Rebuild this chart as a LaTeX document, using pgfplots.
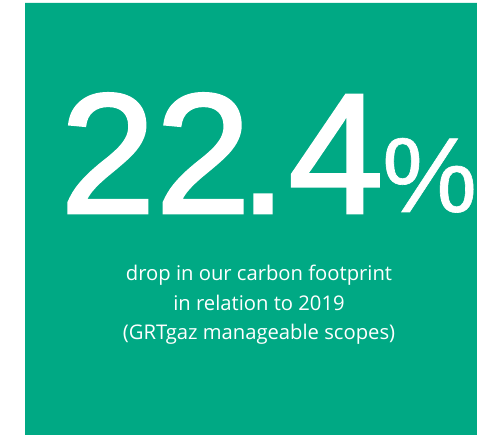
\documentclass[border=0pt]{standalone}
\usepackage{pgfplots}
\pgfplotsset{compat=1.18}
\usepackage{fontspec}
\setmainfont{Open Sans}
\newfontfamily\numfont[FakeBold=1.6]{Liberation Sans}
\newfontfamily\pctfont[FakeBold=0.6]{Liberation Sans}
\definecolor{grtgreen}{RGB}{0,169,132}
\begin{document}
\begin{tikzpicture}
\begin{axis}[
  scale only axis, width=477bp, height=437bp,
  xmin=0, xmax=477, ymin=0, ymax=437,
  hide axis, clip=false,
]
\addplot[fill=grtgreen, draw=none] coordinates {(25,2) (477,2) (477,434) (25,434) (25,2)};
\node[anchor=base west, inner sep=0pt, text=white, font=\numfont\fontsize{172}{172}\selectfont] at (axis cs:60,224) {22};
\node[anchor=base west, inner sep=0pt, text=white, font=\numfont\fontsize{172}{172}\selectfont] at (axis cs:239,224) {.};
\node[anchor=base west, inner sep=0pt, text=white, font=\numfont\fontsize{172}{172}\selectfont] at (axis cs:288,224) {4};
\node[anchor=base west, inner sep=0pt, text=white, font=\pctfont\fontsize{107}{107}\selectfont] at (axis cs:382,225) {\%};
\node[anchor=base, inner sep=0pt, text=white, font=\fontsize{20.3}{20.3}\selectfont] at (axis cs:259,156) {drop in our carbon footprint};
\node[anchor=base, inner sep=0pt, text=white, font=\fontsize{20.3}{20.3}\selectfont] at (axis cs:259,126) {in relation to 2019};
\node[anchor=base, inner sep=0pt, text=white, font=\fontsize{20.3}{20.3}\selectfont] at (axis cs:259,97) {(GRTgaz manageable scopes)};
\end{axis}
\pgfresetboundingbox
\useasboundingbox (current axis.south west) rectangle (current axis.north east);
\end{tikzpicture}
\end{document}
